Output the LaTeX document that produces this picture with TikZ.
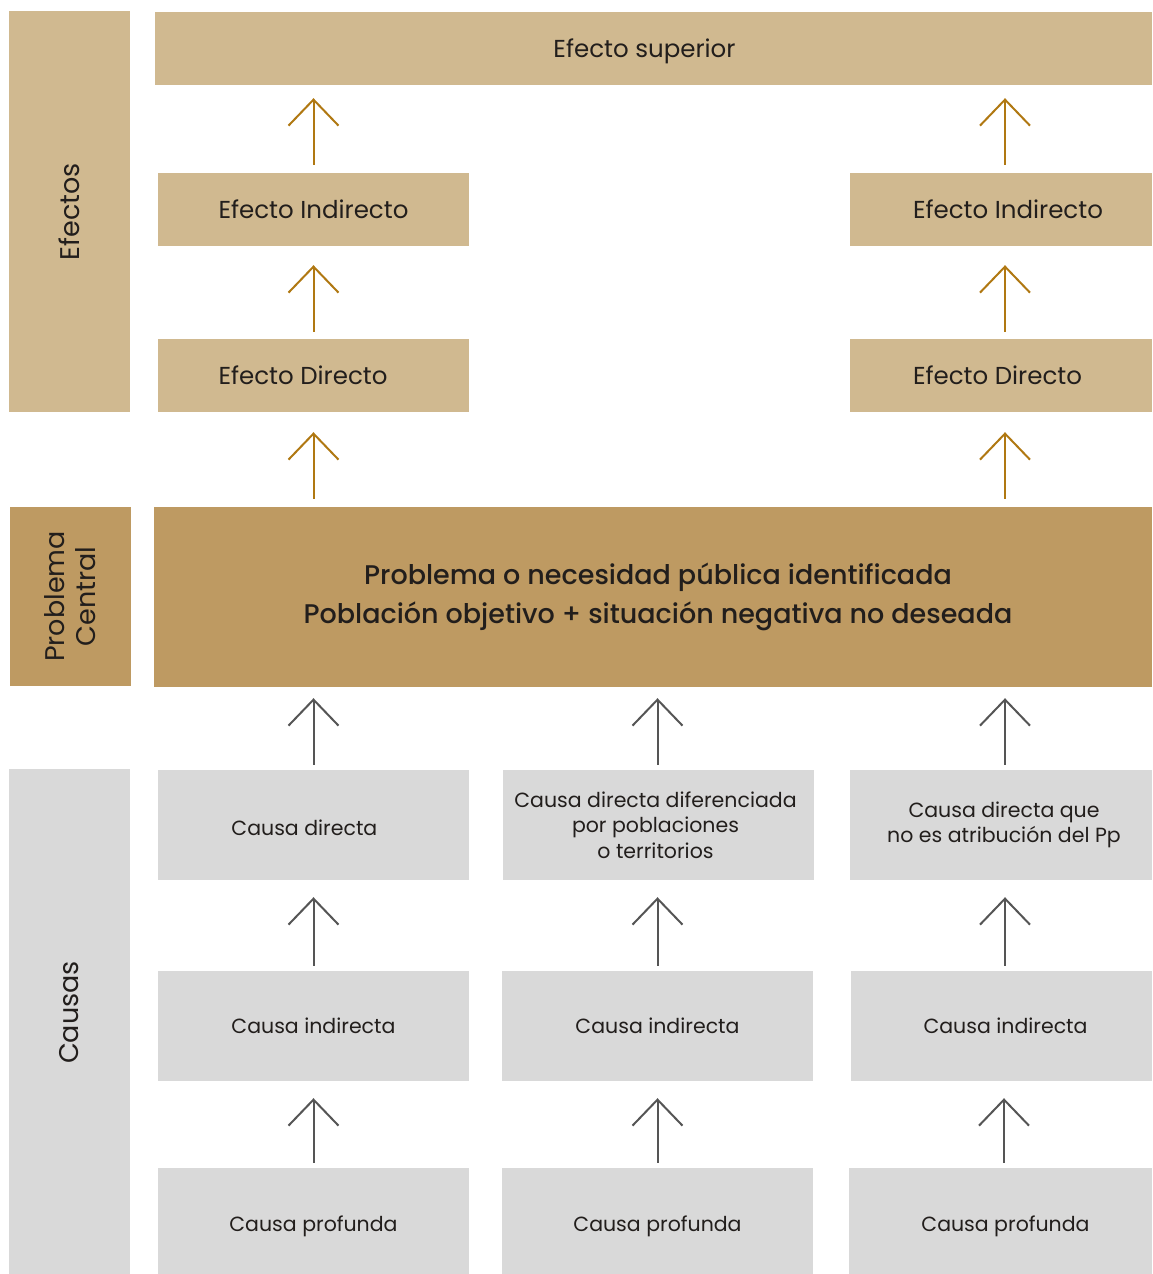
\documentclass[tikz,border=0pt]{standalone}
\usepackage{fontspec}
\setmainfont{Poppins}
\newfontfamily\medfont{Poppins Medium}
\usetikzlibrary{arrows.meta}
\definecolor{tanl}{RGB}{208,185,144}
\definecolor{tand}{RGB}{190,154,98}
\definecolor{grayb}{RGB}{217,217,217}
\definecolor{txt}{RGB}{34,30,28}
\definecolor{goldarr}{RGB}{176,120,18}
\definecolor{grayarr}{RGB}{85,85,85}
\newcommand{\lowr}[2]{\raisebox{-#1}[\height][\depth]{#2}}
\begin{document}
\begin{tikzpicture}[x=1pt,y=-1pt,
  box/.style={inner sep=0pt, text=txt, align=center},
  eff/.style={box, fill=tanl, font=\fontsize{24.5}{29}\selectfont},
  cau/.style={box, fill=grayb, font=\fontsize{20.5}{25.5}\selectfont},
  side/.style={box, rotate=90, font=\fontsize{27}{31}\selectfont},
  uparr/.style={line width=2pt, -{Straight Barb[length=26pt,width=50pt,line cap=butt]}},
  garr/.style={uparr, draw=goldarr},
  carr/.style={uparr, draw=grayarr}]
\useasboundingbox (0,0) rectangle (1152,1274);

% sidebars
\node[side, fill=tanl, minimum width=401pt, minimum height=121pt] (sE) at (69.5,211.5) {Efectos};
\node[side, fill=tand, minimum width=179pt, minimum height=121pt] (sP) at (70.5,596.5) {Problema\\Central};
\node[side, fill=grayb, minimum width=505pt, minimum height=121pt] (sC) at (69.5,1021.5) {\kern18pt Causas};

% effects
\node[eff, minimum width=997pt, minimum height=73pt] (sup) at (653.5,48.5) {\kern-18pt\lowr{3pt}{Efecto superior}};
\node[eff, minimum width=311pt, minimum height=73pt] (eiL) at (313.5,209.5) {Efecto Indirecto};
\node[eff, minimum width=302pt, minimum height=73pt] (eiR) at (1001,209.5) {\kern14pt Efecto Indirecto};
\node[eff, minimum width=311pt, minimum height=73pt] (edL) at (313.5,375.5) {\rlap{Efecto Directo}\phantom{Efecto Indirecto}};
\node[eff, minimum width=302pt, minimum height=73pt] (edR) at (1001,375.5) {\kern14pt\rlap{Efecto Directo}\phantom{Efecto Indirecto}};

% central problem
\node[box, fill=tand, minimum width=998pt, minimum height=180pt, font=\medfont\fontsize{27}{39}\selectfont] (pc) at (653,597)
  {\kern10pt Problema o necesidad pública identificada\\\kern10pt Población objetivo + situación negativa no deseada};

% causes
\node[cau, minimum width=311pt, minimum height=110pt] (cdL) at (313.5,825) {\lowr{3pt}{\rlap{Causa directa}\phantom{Causa indirecta}}};
\node[cau, minimum width=311pt, minimum height=110pt] (cdM) at (658.5,825) {\kern-6pt Causa directa diferenciada\\\kern-6pt por poblaciones\\\kern-6pt o territorios};
\node[cau, minimum width=302pt, minimum height=110pt] (cdR) at (1001,825) {\kern6pt Causa directa que\\\kern6pt no es atribución del Pp};
\node[cau, minimum width=311pt, minimum height=110pt] (ciL) at (313.5,1026) {Causa indirecta};
\node[cau, minimum width=311pt, minimum height=110pt] (ciM) at (657.5,1026) {Causa indirecta};
\node[cau, minimum width=301pt, minimum height=110pt] (ciR) at (1001.5,1026) {\kern8pt Causa indirecta};
\node[cau, minimum width=311pt, minimum height=106pt] (cpL) at (313.5,1221) {\lowr{5pt}{Causa profunda}};
\node[cau, minimum width=311pt, minimum height=106pt] (cpM) at (657.5,1221) {\lowr{5pt}{Causa profunda}};
\node[cau, minimum width=303pt, minimum height=106pt] (cpR) at (1000.5,1221) {\kern10pt\lowr{5pt}{Causa profunda}};

% gold arrows
\draw[garr, shorten <=8pt, shorten >=13pt] (eiL.north) -- (eiL.north |- sup.south);
\draw[garr, shorten <=8pt, shorten >=13pt] ([xshift=4pt]eiR.north) -- ([xshift=4pt]eiR.north |- sup.south);
\draw[garr, shorten <=7pt, shorten >=19pt] (edL.north) -- (eiL.south);
\draw[garr, shorten <=7pt, shorten >=19pt] ([xshift=4pt]edR.north) -- ([xshift=4pt]eiR.south);
\draw[garr, shorten <=8pt, shorten >=20pt] (pc.north -| edL.south) -- (edL.south);
\draw[garr, shorten <=8pt, shorten >=20pt] ([xshift=4pt]pc.north -| edR.south) -- ([xshift=4pt]edR.south);

% gray arrows
\draw[carr, shorten <=5pt, shorten >=11pt] (cdL.north) -- (cdL.north |- pc.south);
\draw[carr, shorten <=5pt, shorten >=11pt] ([xshift=-1pt]cdM.north) -- ([xshift=-1pt]cdM.north |- pc.south);
\draw[carr, shorten <=5pt, shorten >=11pt] ([xshift=4pt]cdR.north) -- ([xshift=4pt]cdR.north |- pc.south);
\draw[carr, shorten <=5pt, shorten >=17pt] (ciL.north) -- (cdL.south);
\draw[carr, shorten <=5pt, shorten >=17pt] (ciM.north) -- (ciM.north |- cdM.south);
\draw[carr, shorten <=5pt, shorten >=17pt] ([xshift=3.5pt]ciR.north) -- ([xshift=3.5pt]ciR.north |- cdR.south);
\draw[carr, shorten <=5pt, shorten >=17pt] (cpL.north) -- (ciL.south);
\draw[carr, shorten <=5pt, shorten >=17pt] (cpM.north) -- (ciM.south);
\draw[carr, shorten <=5pt, shorten >=17pt] ([xshift=3.5pt]cpR.north) -- ([xshift=3.5pt]cpR.north |- ciR.south);
\end{tikzpicture}
\end{document}
